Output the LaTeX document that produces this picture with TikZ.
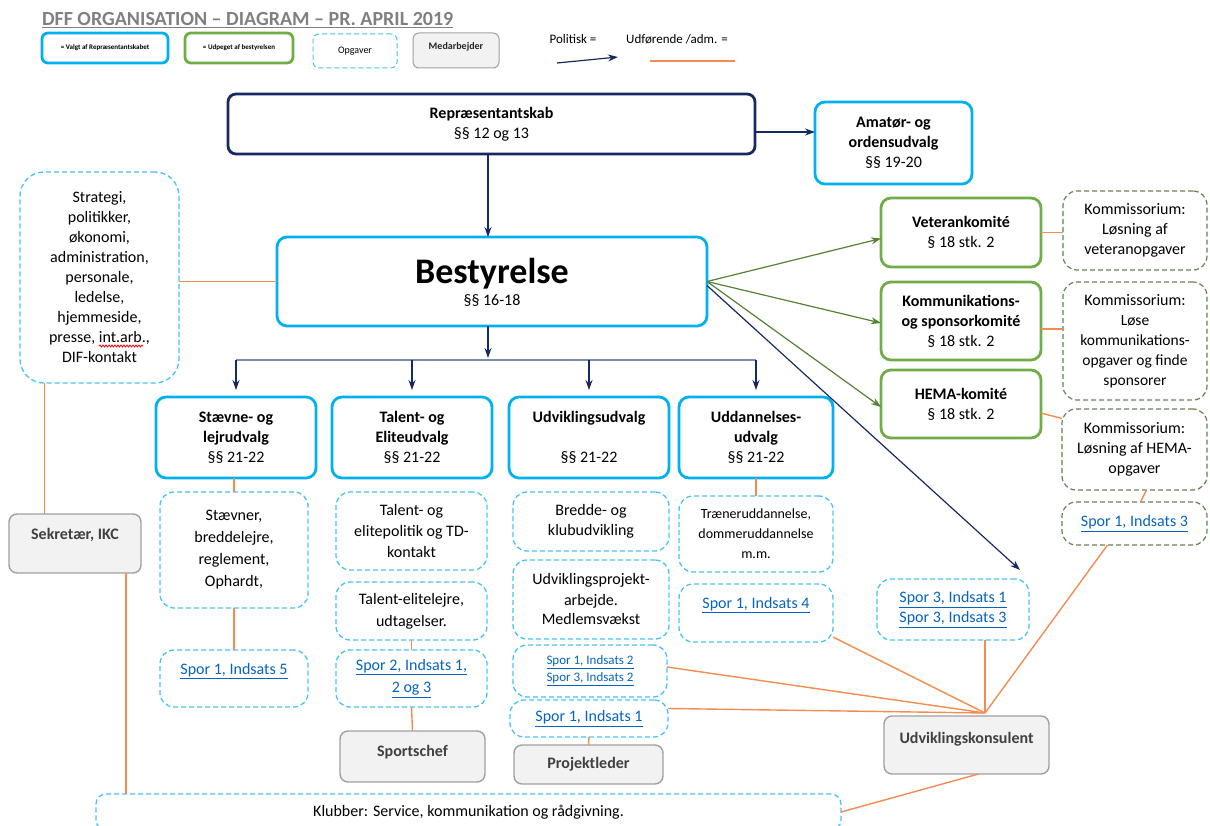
\documentclass[tikz,border=0pt]{standalone}
\usepackage{fontspec}
\setmainfont{Carlito}
\usetikzlibrary{arrows.meta,decorations.pathmorphing}
\definecolor{cBlue}{RGB}{0,176,240}
\definecolor{cBlueL}{RGB}{70,195,245}
\definecolor{cNavy}{RGB}{22,42,95}
\definecolor{cBus}{RGB}{120,140,180}
\definecolor{cGreen}{RGB}{112,173,71}
\definecolor{cGreenA}{RGB}{84,130,53}
\definecolor{cGreenD}{RGB}{100,130,80}
\definecolor{cOrange}{RGB}{242,140,80}
\definecolor{cGreyB}{RGB}{160,160,160}
\definecolor{cGreyF}{RGB}{242,242,242}
\definecolor{cDark}{RGB}{64,64,64}
\definecolor{cTitle}{RGB}{128,128,128}
\definecolor{cLink}{RGB}{5,99,193}
\newcommand\setfs[2]{\fontsize{#1}{#2}\selectfont}
\newcommand\lk[1]{\textcolor{cLink}{\underline{#1}}}
\newcommand\sm[1]{{\setfs{15.5}{19}#1}}
\begin{document}
\begin{tikzpicture}[x=1pt,y=-1pt,
 every node/.style={inner sep=0pt,outer sep=0pt,align=center,font=\setfs{16}{20}},
 wh/.style 2 args={minimum width=#1,minimum height=#2},
 blubox/.style={draw=cBlue,line width=2.8pt,rounded corners=10pt,fill=white},
 navybox/.style={draw=cNavy,line width=2.8pt,rounded corners=8pt,fill=white},
 grnbox/.style={draw=cGreen,line width=2.8pt,rounded corners=10pt,fill=white},
 taskbox/.style={draw=cBlueL,line width=1.3pt,dash pattern=on 5pt off 3pt,rounded corners=14pt},
 gtask/.style={draw=cGreenD,line width=1.2pt,dash pattern=on 5pt off 3pt,rounded corners=14pt},
 staff/.style={draw=cGreyB,fill=cGreyF,line width=1.4pt,rounded corners=8pt,text=cDark,font=\setfs{16}{20}\bfseries},
 pol/.style={draw=cNavy,line width=1.2pt,-{Stealth[length=10pt,width=7pt]}},
 pgrn/.style={draw=cGreenA,line width=1.2pt,-{Stealth[length=10pt,width=7pt]}},
 adm/.style={draw=cOrange,line width=1.4pt},
]
\useasboundingbox (0,0) rectangle (1210,826);
\clip (0,0) rectangle (1210,826);

% title and legend
\node[anchor=west,text=cTitle,font=\setfs{20}{24}\bfseries] (title) at (42,20) {\underline{DFF ORGANISATION – DIAGRAM – PR. APRIL 2019}};
\node[blubox,wh={126}{30},rounded corners=6pt,font=\setfs{7}{8}\bfseries] (legB) at (105,48) {= Valgt af Repræsentantskabet};
\node[grnbox,wh={108}{30},rounded corners=6pt,font=\setfs{7}{8}\bfseries] (legG) at (239,48) {= Udpeget af bestyrelsen};
\node[taskbox,wh={84}{34},rounded corners=6pt,line width=1pt,font=\setfs{10}{12}] (legT) at (355,51) {Opgaver};
\node[staff,wh={86}{35},rounded corners=6pt,line width=1pt,text=black!85,font=\setfs{10}{11}\bfseries] (legS) at (456,50.5) {Medarbejder\\[-1pt]\mbox{}};
\node[font=\setfs{13}{15}] (polT) at (573,39) {Politisk =};
\node[font=\setfs{13}{15}] (admT) at (677,39) {Udførende /adm. =};
\coordinate (polA) at (557,63); \coordinate (polB) at (618,57);
\draw[pol] (polA) -- (polB);
\coordinate (admA) at (650,61); \coordinate (admB) at (735,61);
\draw[adm] (admA) -- (admB);

% top
\node[navybox,wh={527}{60}] (repr) at (491.5,124) {\textbf{Repræsentantskab}\\§§ 12 og 13};
\node[blubox,wh={157}{82}] (amator) at (893.5,143) {\textbf{Amatør- og}\\\textbf{ordensudvalg}\\§§ 19-20};
\node[blubox,wh={430}{89}] (best) at (492,281.5) {};
\node[font=\setfs{36}{40}\bfseries] (bestT) at (492,274) {Bestyrelse};
\node (bestP) at (492,301) {§§ 16-18};
\node[taskbox,wh={159}{211},rounded corners=24pt] (strat) at (99.5,277.5) {Strategi,\\politikker,\\økonomi,\\administration,\\personale,\\ledelse,\\hjemmeside,\\presse, int.arb.,\\DIF-kontakt};
\coordinate (wavA) at (99,346); \coordinate (wavB) at (143,346);
\draw[red,line width=0.8pt,decorate,decoration={snake,amplitude=1pt,segment length=3pt}] (wavA) -- (wavB);

% committees
\node[grnbox,wh={160}{69}] (vet) at (961,232.5) {\textbf{Veterankomité}\\§ 18 stk. 2};
\node[grnbox,wh={160}{78}] (komm) at (961,321) {\textbf{Kommunikations-}\\\textbf{og sponsorkomité}\\§ 18 stk. 2};
\node[grnbox,wh={160}{68}] (hema) at (961,404) {\textbf{HEMA-komité}\\§ 18 stk. 2};
\node[gtask,wh={144}{79}] (kvet) at (1135,230.5) {Kommissorium:\\Løsning af\\veteranopgaver};
\node[gtask,wh={144}{118}] (kkomm) at (1135,341) {Kommissorium:\\\sm{Løse}\\\sm{kommunikations-}\\\sm{opgaver og finde}\\\sm{sponsorer}};
\node[gtask,wh={145}{81}] (khema) at (1134.5,449.5) {Kommissorium:\\Løsning af HEMA-\\opgaver};
\node[gtask,wh={145}{43}] (s13) at (1134.5,523.5) {\lk{Spor 1, Indsats 3}};

% udvalg
\node[blubox,wh={160}{81}] (staev) at (236,437.5) {\textbf{Stævne- og}\\\textbf{lejrudvalg}\\§§ 21-22};
\node[blubox,wh={160}{81}] (tal) at (412,437.5) {\textbf{Talent- og}\\\textbf{Eliteudvalg}\\§§ 21-22};
\node[blubox,wh={160}{81}] (udv) at (589,437.5) {\textbf{Udviklingsudvalg}\\[20pt]§§ 21-22};
\node[blubox,wh={154}{81}] (udd) at (756,437.5) {\textbf{Uddannelses-}\\\textbf{udvalg}\\§§ 21-22};

% tasks
\node[taskbox,wh={148}{116},font=\setfs{16}{22}] (tstaev) at (234,550) {Stævner,\\breddelejre,\\reglement,\\Ophardt,};
\node[taskbox,wh={148}{57}] (s15) at (234,678.5) {\lk{Spor 1, Indsats 5}\\\mbox{}};
\node[taskbox,wh={151}{78},font=\setfs{16}{21}] (ttal1) at (411.5,531) {Talent- og\\elitepolitik og TD-\\kontakt};
\node[taskbox,wh={151}{58},font=\setfs{16}{22}] (ttal2) at (411.5,611) {Talent-elitelejre,\\udtagelser.};
\node[taskbox,wh={151}{57},font=\setfs{16}{22}] (s21) at (411.5,678.5) {\lk{Spor 2, Indsats 1,}\\\lk{2 og 3}};
\node[staff,wh={145}{51}] (sport) at (412.5,756.5) {Sportschef\\[-8pt]\mbox{}};
\node[taskbox,wh={156}{59}] (tudv1) at (591,521.5) {Bredde- og\\klubudvikling};
\node[taskbox,wh={156}{79}] (tudv2) at (591,599.5) {Udviklingsprojekt-\\arbejde.\\Medlemsvækst};
\node[taskbox,wh={154}{52},font=\setfs{13}{17}] (s12) at (590,671) {\lk{Spor 1, Indsats 2}\\\lk{Spor 3, Indsats 2}};
\node[taskbox,wh={158}{37}] (s11) at (589,718.5) {\lk{Spor 1, Indsats 1}};
\node[staff,wh={149}{39}] (proj) at (588.5,764.5) {Projektleder};
\node[taskbox,wh={154}{76},font=\setfs{14}{20}] (tudd) at (756,534) {Træneruddannelse,\\dommeruddannelse\\m.m.};
\node[taskbox,wh={154}{58}] (s14) at (756,613) {\lk{Spor 1, Indsats 4}\\\mbox{}};
\node[taskbox,wh={152}{61}] (s33) at (953,609.5) {\lk{Spor 3, Indsats 1}\\\lk{Spor 3, Indsats 3}};
\node[staff,wh={165}{58}] (kons) at (966.5,745) {Udviklingskonsulent\\[-6pt]\mbox{}};
\node[staff,wh={132}{59}] (sekr) at (75,543.5) {Sekretær, IKC\\\mbox{}};
\node[taskbox,wh={745}{36},rounded corners=10pt] (klub) at (468.5,812) {Klubber: Service, kommunikation og rådgivning.};

% political connectors
\draw[pol] ([yshift=-8pt]repr.east) -- ([yshift=-8pt]repr.east -| amator.west);
\draw[pol] (repr.south -| 488,0) -- (best.north -| 488,0);
\coordinate (bus) at (488,360);
\draw[pol] (best.south -| bus) -- ([yshift=2pt]bus);
\draw[cBus,line width=1.2pt] (staev.north |- bus) -- (udd.north |- bus);
\foreach \n in {staev,tal,udv,udd}{
  \draw[pol] (\n.north |- bus) -- ([yshift=7pt]\n.north);
}
\draw[pgrn] (best.east) -- ([yshift=-6pt]vet.west);
\draw[pgrn] (best.east) -- ([yshift=-2pt]komm.west);
\draw[pgrn] (best.east) -- ([yshift=-3pt]hema.west);
\draw[pol] ([yshift=-4pt]best.east) -- ([xshift=-9pt,yshift=9pt]s33.north east);

% administrative connectors
\draw[adm] (strat.east |- best.west) -- (best.west);
\draw[adm] ([xshift=-55pt]strat.south) -- ([xshift=-55pt]strat.south |- sekr.north);
\draw[adm] ([xshift=51pt]sekr.south) -- ([xshift=51pt]sekr.south |- klub.north);
\draw[adm] (vet.east) -- (vet.east -| kvet.west);
\draw[adm] ([yshift=-8pt]komm.east) -- ([yshift=-8pt]komm.east -| kkomm.west);
\draw[adm] ([yshift=-9pt]hema.east) -- ([yshift=31pt]khema.west);
\draw[adm] ([xshift=12pt]khema.south) -- ([xshift=6pt]s13.north);
\coordinate (khub) at (985,713);
\draw[adm] ([xshift=-27pt]s13.south) -- (khub);
\draw[adm] (s33.south -| khub) -- (khub);
\draw[adm] ([yshift=5pt]s14.south east) -- (khub);
\draw[adm] ([yshift=4pt]s12.east) -- (khub);
\draw[adm] ([yshift=10pt]s11.east) -- (khub);
\draw[adm] ([xshift=12pt]kons.south) -- (klub.east);
\draw[adm] (tstaev.north |- staev.south) -- (tstaev.north);
\draw[adm] (tstaev.south) -- (s15.north);
\draw[adm] (ttal2.south) -- (s21.north);
\draw[adm] (s21.south) -- (sport.north);
\draw[adm] (s11.south) -- (proj.north);
\draw[adm] (udd.south) -- (tudd.north);
\end{tikzpicture}
\end{document}
